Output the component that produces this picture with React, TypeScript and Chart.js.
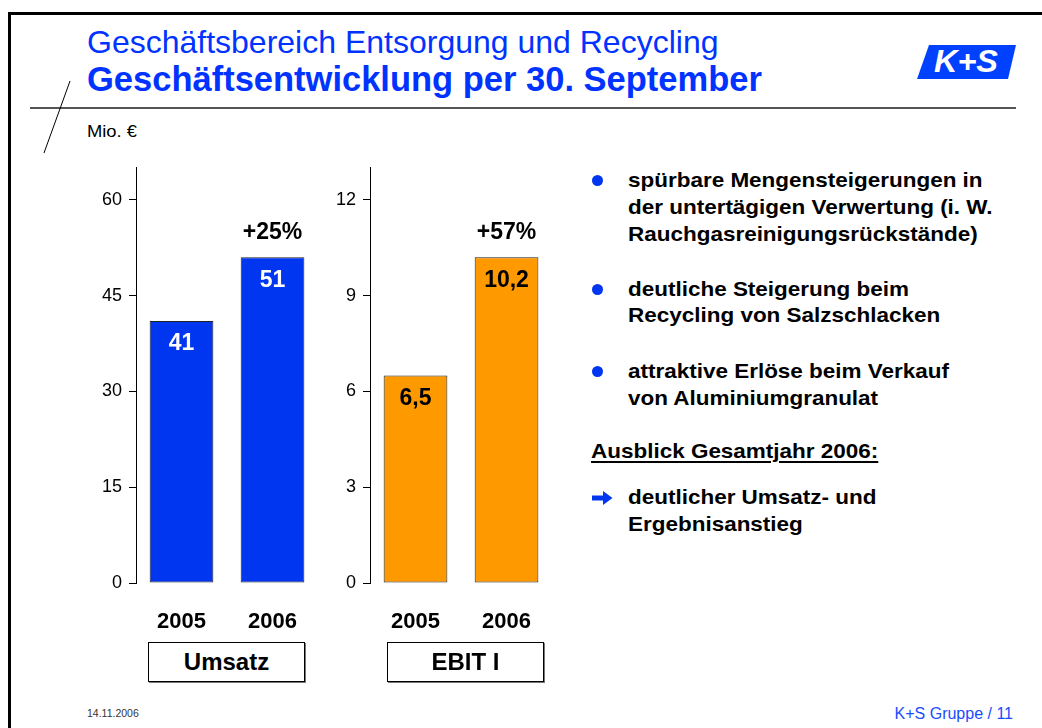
import React, { useEffect, useRef } from "react";
import { Chart, registerables } from "chart.js";

Chart.register(...registerables);

// ---------- data ----------
const years = ["2005", "2006"];
const umsatzValues = [41, 51];
const ebitValues = [6.5, 10.2];
const umsatzGrowth = ["", "+25%"];
const ebitGrowth = ["", "+57%"];
const umsatzTicks = [0, 15, 30, 45, 60];
const ebitTicks = [0, 3, 6, 9, 12];
const umsatzAxisMax = 65;
const ebitAxisMax = 13;
const panelLabels = ["Umsatz", "EBIT I"];

const titleLine1 = "Geschäftsbereich Entsorgung und Recycling";
const titleLine2 = "Geschäftsentwicklung per 30. September";
const unitLabel = "Mio. €";
const bulletTexts = [
  ["spürbare Mengensteigerungen in", "der untertägigen Verwertung (i. W.", "Rauchgasreinigungsrückstände)"],
  ["deutliche Steigerung beim", "Recycling von Salzschlacken"],
  ["attraktive Erlöse beim Verkauf", "von Aluminiumgranulat"],
];
const outlookTitle = "Ausblick Gesamtjahr 2006:";
const outlookLines = ["deutlicher Umsatz- und", "Ergebnisanstieg"];
const footerDate = "14.11.2006";
const footerRight = "K+S Gruppe / 11";

// ---------- styles ----------
const FONT = '"Liberation Sans", Arial, Helvetica, sans-serif';
const BLUE = "#0036F0";
const TITLE_BLUE = "#0033FF";
const ORANGE = "#FF9900";

function fmt(v: number): string {
  return String(v).replace(".", ",");
}

function BarPanel(props: {
  values: number[];
  growth: string[];
  ticks: number[];
  axisMax: number;
  fill: string;
  valueColor: string;
  left: number;
}) {
  const ref = useRef<HTMLCanvasElement | null>(null);
  useEffect(() => {
    if (!ref.current) return;
    const labelPlugin = {
      id: "barLabels",
      afterDatasetsDraw(chart: any) {
        const ctx = chart.ctx;
        const meta = chart.getDatasetMeta(0);
        meta.data.forEach((bar: any, i: number) => {
          const v = chart.data.datasets[0].data[i] as number;
          ctx.save();
          ctx.font = `bold 23px ${FONT}`;
          ctx.textAlign = "center";
          ctx.textBaseline = "middle";
          ctx.fillStyle = props.valueColor;
          ctx.fillText(fmt(v), bar.x, bar.y + 23);
          const g = props.growth[i];
          if (g) {
            ctx.fillStyle = "#000";
            ctx.fillText(g, bar.x, bar.y - 25);
          }
          ctx.restore();
        });
      },
    };
    const chart = new Chart(ref.current, {
      type: "bar",
      data: {
        labels: years,
        datasets: [
          {
            data: props.values,
            backgroundColor: props.fill,
            borderColor: "#222",
            borderWidth: 1,
            borderSkipped: false,
            barPercentage: 0.7,
            categoryPercentage: 1,
          },
        ],
      },
      options: {
        responsive: false,
        animation: false,
        devicePixelRatio: 1,
        layout: { padding: { top: 15, right: 0, bottom: 0, left: 0 } },
        plugins: {
          legend: { display: false },
          tooltip: { enabled: false },
          title: { display: false },
        },
        scales: {
          x: {
            grid: { display: false, drawTicks: false },
            border: { display: false },
            ticks: {
              color: "#000",
              padding: 26,
              font: { family: FONT, size: 22, weight: "bold" },
            },
            afterFit: (scale: any) => {
              scale.height = 57;
            },
          },
          y: {
            min: 0,
            max: props.axisMax,
            afterBuildTicks: (scale: any) => {
              scale.ticks = props.ticks.map((v) => ({ value: v }));
            },
            afterFit: (scale: any) => {
              scale.width = 50;
            },
            grid: {
              display: true,
              drawOnChartArea: false,
              drawTicks: true,
              tickLength: 7,
              color: "#000",
              lineWidth: 1,
            },
            border: { display: true, color: "#000", width: 1 },
            ticks: {
              color: "#000",
              padding: 7,
              font: { family: FONT, size: 18 },
            },
          },
        },
      },
      plugins: [labelPlugin],
    } as any);
    return () => chart.destroy();
  }, []);
  return (
    <canvas
      ref={ref}
      width={237}
      height={490}
      style={{ position: "absolute", left: props.left, top: 150, width: 237, height: 490 }}
    />
  );
}

export default function App() {
  useEffect(() => {
    document.body.style.margin = "0";
  }, []);

  const textLineH = 26.7;
  const bulletTops = [167.2, 275.5, 357.9];

  return (
    <div
      style={{
        position: "absolute",
        left: 0,
        top: 0,
        width: 1042,
        height: 728,
        background: "#fff",
        overflow: "hidden",
        fontFamily: FONT,
      }}
    >
      {/* frame and decorations */}
      <svg width={1042} height={728} style={{ position: "absolute", left: 0, top: 0 }}>
        <line x1={9.5} y1={12} x2={9.5} y2={728} stroke="#000" strokeWidth={3} />
        <line x1={8} y1={13.5} x2={1042} y2={13.5} stroke="#000" strokeWidth={3} />
        <line x1={30} y1={108} x2={1016} y2={108} stroke="#555" strokeWidth={2} />
        <line x1={70} y1={81} x2={44} y2={153} stroke="#000" strokeWidth={1} />
        {/* logo */}
        <polygon points="929,45 1016,45 1008,79 917,79" fill="#0040FF" />
        <text
          x={934}
          y={72}
          fill="#fff"
          fontFamily={FONT}
          fontWeight="bold"
          fontStyle="italic"
          fontSize={32}
          textLength={64}
          lengthAdjust="spacingAndGlyphs"
        >
          K+S
        </text>
        {/* outlook arrow */}
        <path d="M592 495.5 L603 495.5 L603 491 L612.5 498 L603 505 L603 500.5 L592 500.5 Z" fill={BLUE} />
      </svg>

      {/* title */}
      <div
        style={{
          position: "absolute",
          left: 87,
          top: 26,
          fontSize: 32,
          lineHeight: "32px",
          color: TITLE_BLUE,
          whiteSpace: "nowrap",
        }}
      >
        {titleLine1}
      </div>
      <div
        style={{
          position: "absolute",
          left: 87,
          top: 61.5,
          fontSize: 34.5,
          lineHeight: "34.5px",
          fontWeight: "bold",
          color: TITLE_BLUE,
          whiteSpace: "nowrap",
        }}
      >
        {titleLine2}
      </div>

      <div
        style={{
          position: "absolute",
          left: 87,
          top: 122.6,
          fontSize: 17,
          lineHeight: "17px",
          color: "#000",
          whiteSpace: "nowrap",
          transform: "scaleX(1.08)",
          transformOrigin: "left top",
        }}
      >
        {unitLabel}
      </div>

      {/* charts */}
      <BarPanel
        values={umsatzValues}
        growth={umsatzGrowth}
        ticks={umsatzTicks}
        axisMax={umsatzAxisMax}
        fill={BLUE}
        valueColor="#fff"
        left={86}
      />
      <BarPanel
        values={ebitValues}
        growth={ebitGrowth}
        ticks={ebitTicks}
        axisMax={ebitAxisMax}
        fill={ORANGE}
        valueColor="#000"
        left={320}
      />

      {/* panel label boxes */}
      {panelLabels.map((lab, i) => (
        <div
          key={lab}
          style={{
            position: "absolute",
            left: i === 0 ? 148 : 387,
            top: 642,
            width: 157,
            height: 40,
            boxSizing: "border-box",
            border: "1px solid #000",
            boxShadow: "1px 1px 0 #777",
            display: "flex",
            alignItems: "center",
            justifyContent: "center",
            fontWeight: "bold",
            fontSize: 24,
            color: "#000",
          }}
        >
          {lab}
        </div>
      ))}

      {/* bullet texts */}
      {bulletTexts.map((lines, i) => (
        <React.Fragment key={i}>
          <div
            style={{
              position: "absolute",
              left: 592,
              top: bulletTops[i] + 8.2,
              width: 11,
              height: 11,
              borderRadius: "50%",
              background: BLUE,
            }}
          />
          <div
            style={{
              position: "absolute",
              left: 628,
              top: bulletTops[i],
              fontSize: 21,
              lineHeight: `${textLineH}px`,
              fontWeight: "bold",
              color: "#000",
              whiteSpace: "nowrap",
              transform: "scaleX(1.07)",
              transformOrigin: "left top",
            }}
          >
            {lines.map((l, j) => (
              <div key={j}>{l}</div>
            ))}
          </div>
        </React.Fragment>
      ))}

      <div
        style={{
          position: "absolute",
          left: 591,
          top: 437.9,
          fontSize: 21,
          lineHeight: `${textLineH}px`,
          fontWeight: "bold",
          color: "#000",
          whiteSpace: "nowrap",
          textDecoration: "underline",
          textDecorationThickness: "2px",
          textUnderlineOffset: "3px",
          transform: "scaleX(1.07)",
          transformOrigin: "left top",
        }}
      >
        {outlookTitle}
      </div>

      <div
        style={{
          position: "absolute",
          left: 628,
          top: 483.9,
          fontSize: 21,
          lineHeight: `${textLineH}px`,
          fontWeight: "bold",
          color: "#000",
          whiteSpace: "nowrap",
          transform: "scaleX(1.07)",
          transformOrigin: "left top",
        }}
      >
        {outlookLines.map((l, j) => (
          <div key={j}>{l}</div>
        ))}
      </div>

      {/* footer */}
      <div
        style={{
          position: "absolute",
          left: 87,
          top: 708,
          fontSize: 10.5,
          lineHeight: "10.5px",
          color: "#333",
          whiteSpace: "nowrap",
        }}
      >
        {footerDate}
      </div>
      <div
        style={{
          position: "absolute",
          right: 1042 - 1013,
          top: 705.5,
          fontSize: 16,
          lineHeight: "16px",
          color: "#1A4CFF",
          whiteSpace: "nowrap",
        }}
      >
        {footerRight}
      </div>
    </div>
  );
}
